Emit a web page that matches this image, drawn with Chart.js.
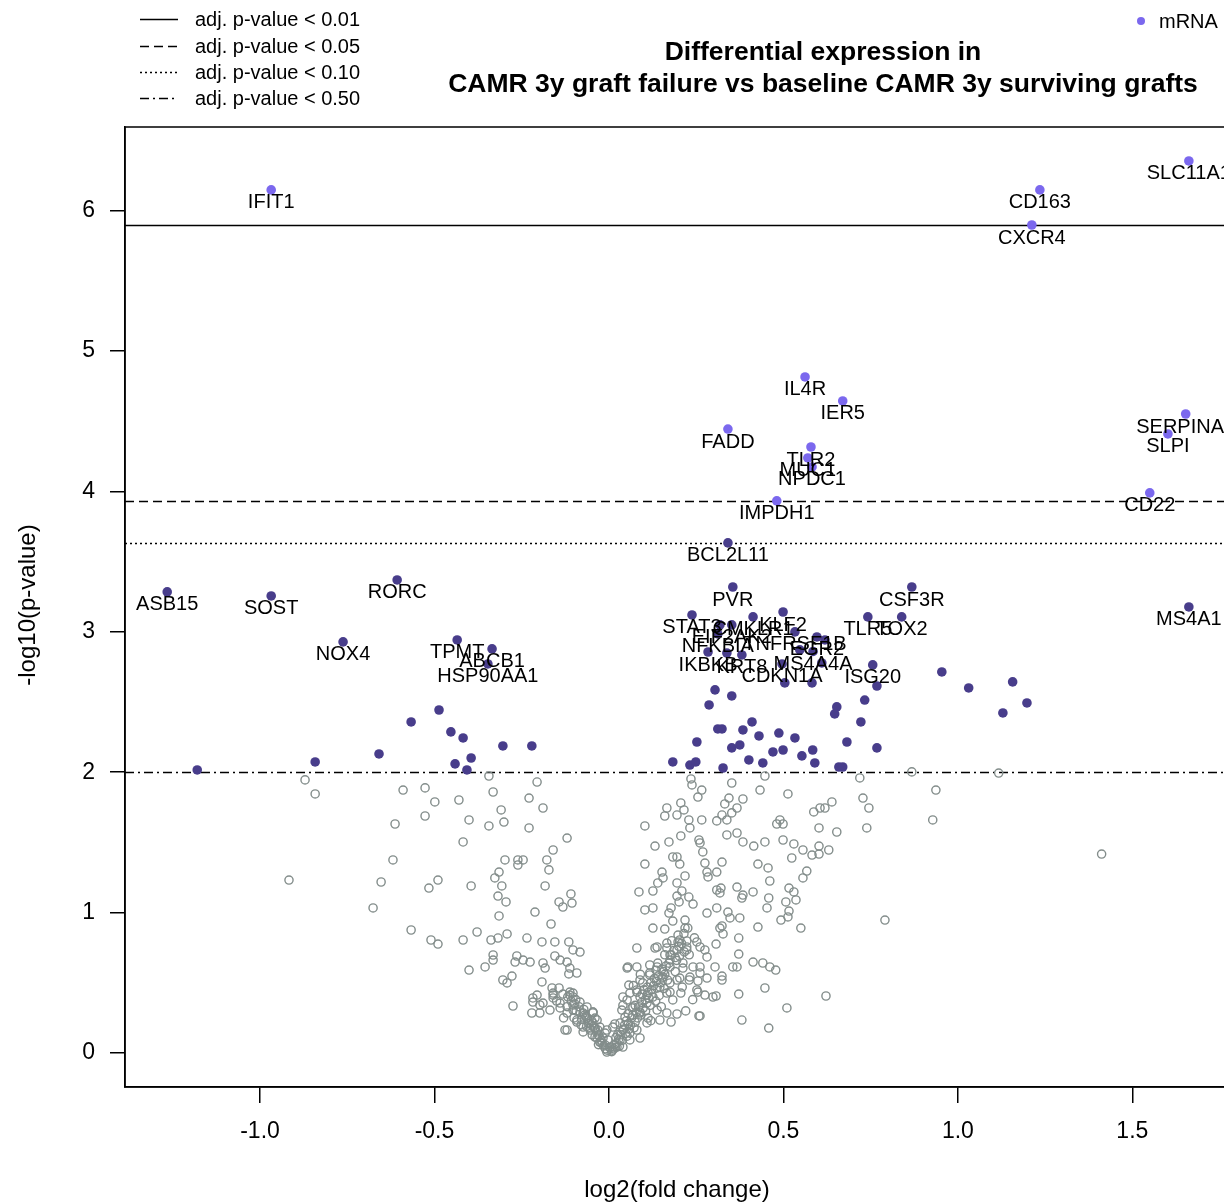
<!DOCTYPE html>
<html><head><meta charset="utf-8">
<script src="https://cdn.jsdelivr.net/npm/chart.js@4/dist/chart.umd.min.js"></script>
<style>html,body{margin:0;padding:0;overflow:hidden;background:#fff}#wrap{width:1260px;height:1203px;position:relative}</style>
</head><body><div id="wrap"><canvas id="c" width="1260" height="1203"></canvas></div>
<script>
const FONT = '"Liberation Sans", Arial, sans-serif';
const xTicks = [-1.0, -0.5, 0.0, 0.5, 1.0, 1.5];
const yTicks = [0, 1, 2, 3, 4, 5, 6];
const thresholdValues = [5.897, 3.93, 3.632, 2.0];
const thresholdLabels = ['adj. p-value < 0.01', 'adj. p-value < 0.05', 'adj. p-value < 0.10', 'adj. p-value < 0.50'];

const lightGenes = ['IFIT1','CD163','SLC11A1','CXCR4','IL4R','IER5','FADD','TLR2','MUC1','NPDC1','SERPINA1','SLPI','CD22','IMPDH1'];
const lightX = [-0.968,1.235,1.662,1.212,0.562,0.670,0.341,0.579,0.570,0.582,1.653,1.602,1.550,0.481];
const lightY = [6.147,6.147,6.353,5.897,4.815,4.644,4.444,4.316,4.238,4.174,4.551,4.409,3.989,3.932];

const darkGenes = ['BCL2L11','ASB15','SOST','RORC','NOX4','TPMT','ABCB1','HSP90AA1','PVR','CSF3R','MS4A1','STAT3','CMKLR1','KLF2','TLR5','TOX2','EIF2AK2','NFKBIA','TNFRSF1B','EGR2','IKBKB','KRT8','MS4A4A','CDKN1A','ISG20'];
const darkX = [0.341,-1.266,-0.968,-0.607,-0.762,-0.435,-0.335,-0.347,0.355,0.868,1.662,0.238,0.413,0.499,0.742,0.839,0.352,0.312,0.533,0.596,0.284,0.381,0.585,0.496,0.756,
 -0.487,-0.567,-0.453,-0.418,-0.304,-0.221,-0.659,-0.842,-0.395,-0.441,-0.407,-1.180,
 0.318,0.619,0.338,0.547,0.610,0.504,0.582,0.768,0.733,0.722,0.768,0.954,1.031,1.157,1.198,1.129,0.304,0.352,0.287,0.653,0.647,0.312,0.324,0.384,0.410,0.430,0.487,0.533,0.252,0.352,0.375,0.470,0.499,0.553,0.584,0.682,0.183,0.232,0.249,0.327,0.401,0.441,0.590,0.659,0.670];
const darkY = [3.633,3.284,3.255,3.369,2.928,2.942,2.878,2.771,3.319,3.319,3.177,3.120,3.106,3.141,3.106,3.106,3.049,2.985,2.999,2.963,2.856,2.835,2.860,2.771,2.764,
 2.443,2.358,2.287,2.244,2.187,2.187,2.130,2.073,2.101,2.059,2.016,2.016,
 3.049,2.942,2.849,2.871,2.778,2.636,2.636,2.614,2.514,2.358,2.173,2.714,2.600,2.643,2.493,2.422,2.586,2.543,2.479,2.465,2.415,2.308,2.308,2.301,2.358,2.258,2.279,2.244,2.215,2.173,2.194,2.144,2.158,2.116,2.158,2.215,2.073,2.051,2.073,2.030,2.087,2.066,2.066,2.037,2.037];

const grayPoints = [
[-0.871,1.945],[-0.842,1.845],[-0.590,1.873],[-0.527,1.888],[-0.499,1.788],[-0.430,1.802],[-0.344,1.973],[-0.332,1.859],[-0.206,1.930],[-0.229,1.816],
[-0.189,1.745],[-0.309,1.731],[-0.301,1.645],[-0.401,1.660],[-0.344,1.617],[-0.229,1.603],[-0.527,1.688],[-0.613,1.631],[-0.418,1.503],[-0.120,1.531],
[-0.160,1.446],[-0.298,1.375],[-0.261,1.375],[-0.246,1.375],[-0.261,1.339],[-0.178,1.375],[-0.172,1.304],[-0.619,1.375],[-0.917,1.232],[-0.653,1.218],
[-0.516,1.175],[-0.490,1.232],[-0.395,1.190],[-0.315,1.289],[-0.327,1.247],[-0.307,1.190],[-0.318,1.118],[-0.295,1.076],[-0.183,1.190],[-0.109,1.133],
[-0.143,1.076],[-0.132,1.040],[-0.106,1.068],[-0.676,1.033],[-0.315,0.976],[-0.212,1.004],[-0.166,0.919],[-0.567,0.876],[-0.510,0.805],[-0.490,0.776],
[-0.418,0.805],[-0.378,0.862],[-0.338,0.805],[-0.318,0.819],[-0.292,0.848],[-0.235,0.819],[-0.192,0.791],[-0.155,0.791],[-0.115,0.791],[-0.103,0.734],
[-0.083,0.719],[-0.332,0.698],[-0.332,0.662],[-0.355,0.613],[-0.401,0.591],[-0.264,0.691],[-0.269,0.648],[-0.246,0.662],[-0.226,0.648],[-0.189,0.641],
[-0.183,0.605],[-0.155,0.691],[-0.140,0.662],[-0.120,0.648],[-0.112,0.605],[-0.092,0.570],[-0.115,0.563],[-0.278,0.548],[-0.304,0.520],[-0.292,0.499],
[-0.192,0.506],[-0.163,0.463],[-0.143,0.463],[-0.275,0.335],[-0.206,0.413],[-0.218,0.363],[-0.221,0.285],[-0.189,0.356],[-0.198,0.285],[-0.103,0.427],
[-0.160,0.413],[-0.120,0.164],
[-0.112,0.434],[-0.103,0.399],[-0.083,0.363],[-0.063,0.328],[-0.046,0.285],[-0.034,0.235],[-0.026,0.185],[-0.011,0.142],[-0.003,0.093],[0.003,0.043],
[-0.140,0.356],[-0.120,0.285],[-0.092,0.235],[-0.074,0.185],[-0.054,0.164],[-0.040,0.114],[-0.020,0.071],[-0.006,0.007],[-0.160,0.427],[-0.169,0.306],
[-0.126,0.164],[-0.103,0.306],[-0.074,0.285],[-0.060,0.235],[-0.046,0.214],[-0.032,0.164],[-0.017,0.107],[-0.011,0.057],[-0.218,0.392],[-0.198,0.342],
[-0.160,0.392],[-0.140,0.321],[-0.112,0.413],[-0.103,0.342],[-0.083,0.292],[-0.063,0.249],[-0.054,0.178],[-0.034,0.107],[-0.074,0.150],[-0.092,0.221],
[-0.040,0.249],[-0.046,0.292],[-0.040,0.178],[-0.026,0.078],
[-0.010,0.030],[-0.030,0.130],[-0.050,0.200],[-0.070,0.270],[-0.080,0.200],[-0.100,0.250],[-0.130,0.250],[-0.150,0.370],[-0.095,0.380],[-0.120,0.330],
[-0.005,0.020],[-0.015,0.050],[-0.022,0.090],[-0.028,0.120],[-0.036,0.150],[-0.044,0.190],[-0.050,0.230],[-0.058,0.210],[-0.066,0.260],[-0.072,0.310],
[-0.078,0.240],[-0.086,0.330],[-0.094,0.300],[-0.108,0.370],[-0.118,0.400],[-0.132,0.420],[-0.098,0.350],[-0.064,0.190],[-0.048,0.130],[-0.030,0.060],
[0.235,1.952],[0.238,1.909],[0.266,1.873],[0.255,1.823],[0.352,1.923],[0.433,1.873],[0.447,1.973],[0.513,1.845],[0.719,1.959],[0.728,1.816],
[0.745,1.745],[0.739,1.603],[0.344,1.816],[0.332,1.774],[0.384,1.809],[0.367,1.745],[0.352,1.710],[0.324,1.695],[0.309,1.653],[0.338,1.660],
[0.266,1.660],[0.229,1.660],[0.232,1.603],[0.206,1.781],[0.215,1.731],[0.166,1.745],[0.160,1.688],[0.195,1.695],[0.103,1.617],[0.587,1.717],
[0.605,1.745],[0.639,1.788],[0.619,1.745],[0.481,1.631],[0.499,1.631],[0.490,1.660],[0.602,1.603],[0.653,1.574],[0.338,1.553],[0.367,1.567],
[0.384,1.503],[0.415,1.474],[0.447,1.503],[0.499,1.517],[0.530,1.489],[0.556,1.446],[0.602,1.474],[0.630,1.446],[0.582,1.410],[0.602,1.417],
[0.524,1.389],[0.258,1.517],[0.261,1.496],[0.269,1.432],[0.206,1.546],[0.172,1.503],[0.132,1.474],[0.103,1.346],[0.183,1.396],[0.195,1.396],
[0.203,1.346],[0.275,1.353],[0.324,1.360],[0.281,1.289],[0.309,1.289],[0.284,1.254],[0.427,1.346],[0.456,1.318],[0.152,1.289],[0.155,1.247],
[0.140,1.211],[0.126,1.154],[0.086,1.147],[0.218,1.261],[0.195,1.211],[0.209,1.154],[0.195,1.118],[0.229,1.111],[0.241,1.061],[0.201,1.076],
[0.309,1.161],[0.321,1.175],[0.318,1.140],[0.367,1.182],[0.384,1.125],[0.381,1.104],[0.413,1.147],[0.461,1.225],[0.458,1.104],[0.453,1.033],
[0.516,1.175],[0.530,1.147],[0.507,1.076],[0.536,1.090],[0.556,1.247],[0.567,1.296],[0.516,1.011],[0.513,0.969],[0.493,0.947],[0.550,0.890],
[0.791,0.947],[0.103,1.019],[0.126,1.033],[0.178,1.033],[0.172,0.997],[0.183,0.940],[0.218,0.947],[0.281,0.997],[0.309,1.033],[0.341,1.004],
[0.347,0.962],[0.375,0.962],[0.324,0.905],[0.318,0.890],[0.327,0.848],[0.427,0.897],[0.372,0.819],[0.126,0.890],[0.160,0.883],[0.198,0.840],
[0.218,0.890],[0.226,0.890],[0.198,0.791],[0.223,0.798],[0.252,0.791],[0.261,0.755],[0.275,0.734],[0.307,0.776],[0.080,0.748],[0.132,0.748],
[0.166,0.748],[0.175,0.698],[0.223,0.734],[0.372,0.705],[0.355,0.613],[0.367,0.613],[0.413,0.648],[0.441,0.641],[0.461,0.613],[0.478,0.591],
[0.052,0.605],[0.080,0.613],[0.117,0.627],[0.152,0.598],[0.175,0.613],[0.212,0.605],[0.241,0.613],[0.261,0.570],[0.281,0.534],[0.304,0.613],
[0.324,0.548],[0.324,0.520],[0.255,0.513],[0.203,0.534],[0.175,0.499],[0.152,0.534],[0.117,0.556],[0.089,0.520],[0.057,0.484],[0.040,0.399],
[0.080,0.434],[0.109,0.413],[0.138,0.463],[0.175,0.434],[0.206,0.427],[0.255,0.434],[0.275,0.413],[0.307,0.406],[0.372,0.420],[0.447,0.463],
[0.622,0.406],[0.510,0.321],[0.381,0.235],[0.458,0.178],[0.258,0.264],[0.195,0.278],[0.178,0.221],[0.146,0.235],[0.112,0.249],[0.089,0.292],
[0.066,0.321],[0.017,0.207],[0.089,0.107],[0.060,0.142],[0.032,0.150],[0.003,0.036],[-0.026,0.078],[-0.046,0.292],[-0.040,0.178],
[0.023,0.043],[0.032,0.093],[0.040,0.164],[0.032,0.214],[0.046,0.256],[0.037,0.306],[0.052,0.378],[0.060,0.427],[0.080,0.449],[0.089,0.399],
[0.069,0.328],[0.089,0.285],[0.109,0.356],[0.126,0.399],[0.097,0.499],[0.117,0.570],[0.138,0.613],[0.155,0.541],[0.146,0.470],[0.166,0.427],
[0.138,0.306],[0.109,0.214],[0.080,0.164],[0.060,0.093],[0.040,0.043],[0.175,0.662],[0.195,0.734],[0.203,0.805],[0.223,0.755],[0.212,0.641],
[0.195,0.520],[0.183,0.378],[0.166,0.285],[0.232,0.541],[0.252,0.449],[0.261,0.613],[0.281,0.684],[0.298,0.399],[0.261,0.264],[0.054,0.613],
[0.138,0.755],[0.166,0.783],[0.011,0.185],[-0.006,0.164],
[0.010,0.020],[0.015,0.060],[0.020,0.110],[0.025,0.130],[0.045,0.200],[0.050,0.230],[0.055,0.280],[0.065,0.250],[0.075,0.340],[0.085,0.330],
[0.095,0.420],[0.100,0.450],[0.110,0.470],[0.120,0.500],[0.130,0.530],[0.115,0.390],[0.105,0.300],[0.075,0.220],[0.058,0.170],[0.030,0.050],
[0.140,0.640],[0.160,0.700],[0.190,0.680],[0.200,0.760],[0.215,0.850],[0.180,0.800],[0.230,0.700],[0.245,0.820],[0.160,0.560],[0.135,0.590],
[0.190,0.580],[0.210,0.470],[0.230,0.520],[0.240,0.380],[0.220,0.300],[0.120,0.230],[0.150,0.330],[0.090,0.560],[0.070,0.480],[0.040,0.340],
[0.008,0.010],[0.014,0.030],[0.022,0.070],[0.028,0.100],[0.034,0.130],[0.042,0.170],[0.048,0.140],[0.056,0.210],[0.062,0.200],[0.068,0.270],
[0.078,0.290],[0.082,0.250],[0.094,0.360],[0.098,0.320],[0.104,0.380],[0.112,0.430],[0.122,0.450],[0.128,0.480],[0.136,0.510],[0.142,0.550],
[0.148,0.500],[0.156,0.580],[0.164,0.620],[0.172,0.640],[0.178,0.700],[0.186,0.730],[0.194,0.660],[0.202,0.690],[0.208,0.780],[0.216,0.720],
[0.168,0.520],[0.158,0.460],[0.144,0.410],[0.134,0.370],[0.118,0.340],[0.092,0.270],[0.072,0.180],[0.052,0.120],[0.038,0.090],[0.018,0.040],
[0.868,2.002],[1.117,1.994],[0.937,1.873],[0.928,1.660],[1.412,1.417]
];

const dashPatterns = [[], [9,5], [2,3], [9,4,2,4]];

const toPts = (xs, ys) => xs.map((x, i) => ({x: x, y: ys[i]}));

const thresholdPlugin = {
  id: 'thresholds',
  beforeDatasetsDraw(chart) {
    const {ctx, chartArea, scales} = chart;
    ctx.save();
    ctx.beginPath(); ctx.rect(chartArea.left, chartArea.top, chartArea.right - chartArea.left, chartArea.bottom - chartArea.top); ctx.clip();
    ctx.strokeStyle = '#000'; ctx.lineWidth = 1.5;
    thresholdValues.forEach((v, i) => {
      const y = Math.round(scales.y.getPixelForValue(v)) + 0.5;
      ctx.setLineDash(dashPatterns[i]);
      ctx.beginPath(); ctx.moveTo(chartArea.left, y); ctx.lineTo(chartArea.right, y); ctx.stroke();
    });
    ctx.restore();
  }
};

const labelPlugin = {
  id: 'geneLabels',
  afterDatasetsDraw(chart) {
    const {ctx} = chart;
    ctx.save();
    ctx.font = '20px ' + FONT;
    ctx.fillStyle = '#000';
    ctx.textAlign = 'center';
    ctx.textBaseline = 'middle';
    chart.data.datasets.forEach((ds, di) => {
      if (!ds.genes) return;
      const meta = chart.getDatasetMeta(di);
      meta.data.forEach((el, i) => {
        const g = ds.genes[i];
        if (g) ctx.fillText(g, el.x, el.y + 13);
      });
    });
    ctx.restore();
  }
};

const decorPlugin = {
  id: 'decor',
  afterDraw(chart) {
    const {ctx, chartArea} = chart;
    ctx.save();
    ctx.strokeStyle = '#000'; ctx.lineWidth = 1.5; ctx.setLineDash([]);
    ctx.strokeRect(chartArea.left, chartArea.top, chartArea.right - chartArea.left, chartArea.bottom - chartArea.top);
    ctx.fillStyle = '#000';
    ctx.textAlign = 'center'; ctx.textBaseline = 'middle';
    ctx.font = 'bold 26.5px ' + FONT;
    ctx.fillText('Differential expression in', 823, 53);
    ctx.fillText('CAMR 3y graft failure vs baseline CAMR 3y surviving grafts', 823, 85);
    ctx.font = '24px ' + FONT;
    ctx.fillText('log2(fold change)', 677, 1190);
    ctx.save();
    ctx.translate(28, 605); ctx.rotate(-Math.PI / 2);
    ctx.fillText('-log10(p-value)', 0, 0);
    ctx.restore();
    ctx.font = '20px ' + FONT;
    ctx.textAlign = 'left';
    const ly = [19, 46, 72, 98];
    thresholdLabels.forEach((t, i) => {
      ctx.setLineDash(dashPatterns[i]);
      ctx.lineWidth = 1.5;
      ctx.beginPath(); ctx.moveTo(140, ly[i] + 0.5); ctx.lineTo(178, ly[i] + 0.5); ctx.stroke();
      ctx.setLineDash([]);
      ctx.fillText(t, 195, ly[i] + 1);
    });
    ctx.fillStyle = '#7B68EE';
    ctx.beginPath(); ctx.arc(1141, 21, 4, 0, Math.PI * 2); ctx.fill();
    ctx.fillStyle = '#000';
    ctx.font = '20px ' + FONT;
    ctx.fillText('mRNA', 1159, 22);
    ctx.restore();
  }
};

new Chart(document.getElementById('c'), {
  type: 'scatter',
  data: {
    datasets: [
      { label: 'not significant', data: grayPoints.map(p => ({x: p[0], y: p[1]})), pointStyle: 'circle', pointRadius: 4.1, pointBorderWidth: 1.4,
        borderColor: '#838D8B', backgroundColor: 'rgba(0,0,0,0)', order: 3 },
      { label: 'nominal', data: toPts(darkX, darkY), genes: darkGenes, pointRadius: 4.8, pointBorderWidth: 0,
        borderColor: '#483D8B', backgroundColor: '#483D8B', order: 2 },
      { label: 'mRNA', data: toPts(lightX, lightY), genes: lightGenes, pointRadius: 4.8, pointBorderWidth: 0,
        borderColor: '#7B68EE', backgroundColor: '#7B68EE', order: 1 }
    ]
  },
  options: {
    responsive: false,
    animation: false,
    devicePixelRatio: 1,
    layout: { padding: { top: 127, right: 23, left: 0, bottom: 0 } },
    plugins: { legend: { display: false }, tooltip: { enabled: false }, title: { display: false } },
    scales: {
      x: {
        type: 'linear', min: -1.387, max: 1.80,
        afterBuildTicks: s => { s.ticks = xTicks.map(v => ({value: v})); },
        afterFit: s => { s.height = 116; },
        ticks: { font: { size: 23, family: FONT }, color: '#000', padding: 15, maxRotation: 0, callback: v => Number(v).toFixed(1) },
        grid: { drawOnChartArea: false, drawTicks: true, tickLength: 16, color: '#000', lineWidth: 1.5 },
        border: { display: true, color: '#000', width: 1.5 }
      },
      y: {
        type: 'linear', min: -0.242, max: 6.595,
        afterBuildTicks: s => { s.ticks = yTicks.map(v => ({value: v})); },
        afterFit: s => { s.width = 125; },
        ticks: { font: { size: 23, family: FONT }, color: '#000', padding: 15, callback: v => String(v) },
        grid: { drawOnChartArea: false, drawTicks: true, tickLength: 15, color: '#000', lineWidth: 1.5 },
        border: { display: true, color: '#000', width: 1.5 }
      }
    }
  },
  plugins: [thresholdPlugin, labelPlugin, decorPlugin]
});
</script></body></html>
